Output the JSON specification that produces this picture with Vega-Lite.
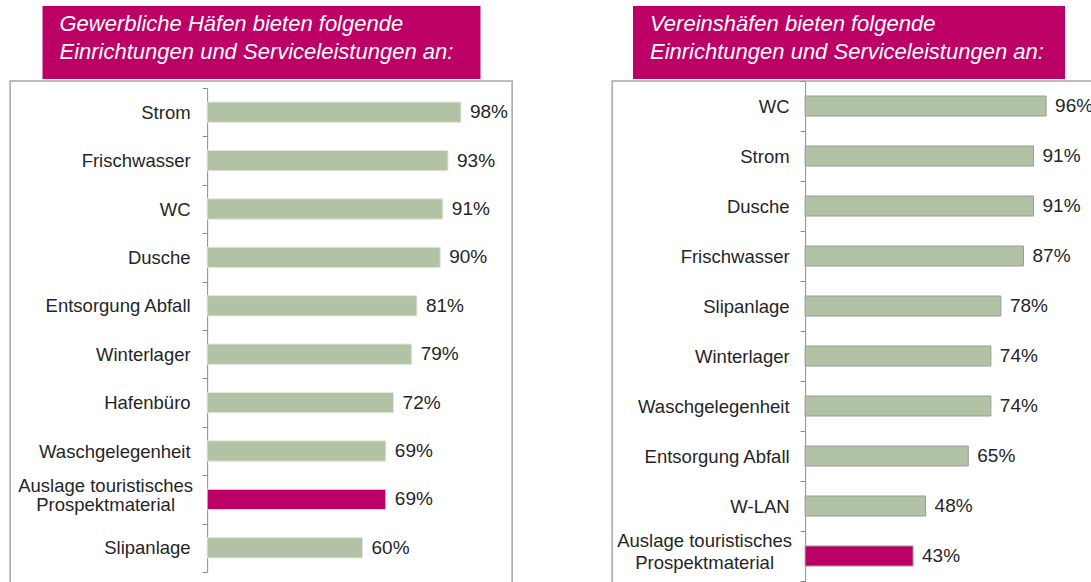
{
  "$schema": "https://vega.github.io/schema/vega-lite/v6.json",
  "padding": {"left": 9, "top": 6, "right": 0, "bottom": 0},
  "config": {
    "view": {"stroke": null},
    "font": "Liberation Sans",
    "axis": {"labelFont": "Liberation Sans"}
  },
  "datasets": {
    "links": [
      {"angebot": "Strom", "anteil": 0.98, "hervorgehoben": false},
      {"angebot": "Frischwasser", "anteil": 0.93, "hervorgehoben": false},
      {"angebot": "WC", "anteil": 0.91, "hervorgehoben": false},
      {"angebot": "Dusche", "anteil": 0.90, "hervorgehoben": false},
      {"angebot": "Entsorgung Abfall", "anteil": 0.81, "hervorgehoben": false},
      {"angebot": "Winterlager", "anteil": 0.79, "hervorgehoben": false},
      {"angebot": "Hafenbüro", "anteil": 0.72, "hervorgehoben": false},
      {"angebot": "Waschgelegenheit", "anteil": 0.69, "hervorgehoben": false},
      {"angebot": "Auslage touristisches Prospektmaterial", "anteil": 0.69, "hervorgehoben": true},
      {"angebot": "Slipanlage", "anteil": 0.60, "hervorgehoben": false}
    ],
    "rechts": [
      {"angebot": "WC", "anteil": 0.96, "hervorgehoben": false},
      {"angebot": "Strom", "anteil": 0.91, "hervorgehoben": false},
      {"angebot": "Dusche", "anteil": 0.91, "hervorgehoben": false},
      {"angebot": "Frischwasser", "anteil": 0.87, "hervorgehoben": false},
      {"angebot": "Slipanlage", "anteil": 0.78, "hervorgehoben": false},
      {"angebot": "Winterlager", "anteil": 0.74, "hervorgehoben": false},
      {"angebot": "Waschgelegenheit", "anteil": 0.74, "hervorgehoben": false},
      {"angebot": "Entsorgung Abfall", "anteil": 0.65, "hervorgehoben": false},
      {"angebot": "W-LAN", "anteil": 0.48, "hervorgehoben": false},
      {"angebot": "Auslage touristisches Prospektmaterial", "anteil": 0.43, "hervorgehoben": true}
    ],
    "titelLinks": [
      {"zeile": 1, "text": "Gewerbliche Häfen bieten folgende"},
      {"zeile": 2, "text": "Einrichtungen und Serviceleistungen an:"}
    ],
    "titelRechts": [
      {"zeile": 1, "text": "Vereinshäfen bieten folgende"},
      {"zeile": 2, "text": "Einrichtungen und Serviceleistungen an:"}
    ]
  },
  "spacing": 98,
  "hconcat": [
    {
      "spacing": -8,
      "center": true,
      "vconcat": [
        {
          "data": {"name": "titelLinks"},
          "width": 438,
          "height": 73,
          "view": {"fill": "#bd0066", "stroke": null},
          "mark": {"type": "text", "align": "left", "baseline": "middle", "fontStyle": "italic", "fontSize": 22, "color": "#ffffff", "dx": 17},
          "encoding": {
            "x": {"datum": 0, "type": "quantitative", "scale": {"domain": [0, 1]}, "axis": null},
            "y": {
              "field": "zeile", "type": "ordinal",
              "scale": {"range": [18, 46], "padding": 0},
              "axis": null
            },
            "text": {"field": "text"}
          }
        },
        {
          "data": {"name": "links"},
          "width": 502,
          "height": 515,
          "view": {"stroke": "#a6a6a6", "strokeWidth": 1.5},
          "encoding": {
            "y": {
              "field": "angebot", "type": "nominal", "sort": null,
              "scale": {"range": [7, 491], "paddingInner": 0, "paddingOuter": 0},
              "axis": {
                "title": null, "orient": "left", "offset": -197, "tickBand": "extent",
                "domainColor": "#8c8c8c", "tickColor": "#8c8c8c", "tickSize": 5,
                "labelFontSize": 18.5, "labelColor": "#262626", "labelLimit": 0,
                "labelLineHeight": 19,
                "labelPadding": {"condition": {"test": "indexof(datum.label, 'Auslage') >= 0", "value": 97}, "value": 12},
                "labelAlign": {"condition": {"test": "indexof(datum.label, 'Auslage') >= 0", "value": "center"}, "value": "right"},
                "labelOffset": {"condition": {"test": "indexof(datum.label, 'Auslage') >= 0", "value": -14}, "value": 0},
                "labelExpr": "datum.label == 'Auslage touristisches Prospektmaterial' ? ['Auslage touristisches', 'Prospektmaterial'] : datum.label"
              }
            },
            "x": {"field": "anteil", "type": "quantitative", "scale": {"domain": [0, 1], "range": [197, 456]}, "axis": null}
          },
          "layer": [
            {
              "mark": {"type": "bar", "height": {"band": 0.42}, "stroke": "#e3e8dd", "strokeWidth": 1},
              "encoding": {
                "fill": {"condition": {"test": "datum.hervorgehoben", "value": "#bd0066"}, "value": "#b2c2a4"}
              }
            },
            {
              "mark": {"type": "text", "align": "left", "baseline": "middle", "dx": 9, "fontSize": 19, "color": "#262626"},
              "encoding": {"text": {"field": "anteil", "type": "quantitative", "format": ".0%"}}
            }
          ]
        }
      ]
    },
    {
      "spacing": -8,
      "center": true,
      "vconcat": [
        {
          "data": {"name": "titelRechts"},
          "width": 432,
          "height": 73,
          "view": {"fill": "#bd0066", "stroke": null},
          "mark": {"type": "text", "align": "left", "baseline": "middle", "fontStyle": "italic", "fontSize": 22, "color": "#ffffff", "dx": 17},
          "encoding": {
            "x": {"datum": 0, "type": "quantitative", "scale": {"domain": [0, 1]}, "axis": null},
            "y": {
              "field": "zeile", "type": "ordinal",
              "scale": {"range": [18, 46], "padding": 0},
              "axis": {"orient": "right", "title": null, "labels": false, "ticks": false, "domain": false, "minExtent": 17, "maxExtent": 17}
            },
            "text": {"field": "text"}
          }
        },
        {
          "data": {"name": "rechts"},
          "width": 490,
          "height": 515,
          "view": {"stroke": "#a6a6a6", "strokeWidth": 1.5},
          "encoding": {
            "y": {
              "field": "angebot", "type": "nominal", "sort": null,
              "scale": {"range": [0, 500], "paddingInner": 0, "paddingOuter": 0},
              "axis": {
                "title": null, "orient": "left", "offset": -193, "tickBand": "extent",
                "domainColor": "#8c8c8c", "tickColor": "#8c8c8c", "tickSize": 5,
                "labelFontSize": 18.5, "labelColor": "#262626", "labelLimit": 0,
                "labelLineHeight": 22,
                "labelPadding": {"condition": {"test": "indexof(datum.label, 'Auslage') >= 0", "value": 96}, "value": 11},
                "labelAlign": {"condition": {"test": "indexof(datum.label, 'Auslage') >= 0", "value": "center"}, "value": "right"},
                "labelOffset": {"condition": {"test": "indexof(datum.label, 'Auslage') >= 0", "value": -16}, "value": 0},
                "labelExpr": "datum.label == 'Auslage touristisches Prospektmaterial' ? ['Auslage touristisches', 'Prospektmaterial'] : datum.label"
              }
            },
            "x": {"field": "anteil", "type": "quantitative", "scale": {"domain": [0, 1], "range": [193, 444]}, "axis": null}
          },
          "layer": [
            {
              "mark": {"type": "bar", "height": {"band": 0.4}, "stroke": "#9a9a9a", "strokeWidth": 1},
              "encoding": {
                "fill": {"condition": {"test": "datum.hervorgehoben", "value": "#bd0066"}, "value": "#b2c2a4"}
              }
            },
            {
              "mark": {"type": "text", "align": "left", "baseline": "middle", "dx": 9, "fontSize": 19, "color": "#262626"},
              "encoding": {"text": {"field": "anteil", "type": "quantitative", "format": ".0%"}}
            }
          ]
        }
      ]
    }
  ]
}
